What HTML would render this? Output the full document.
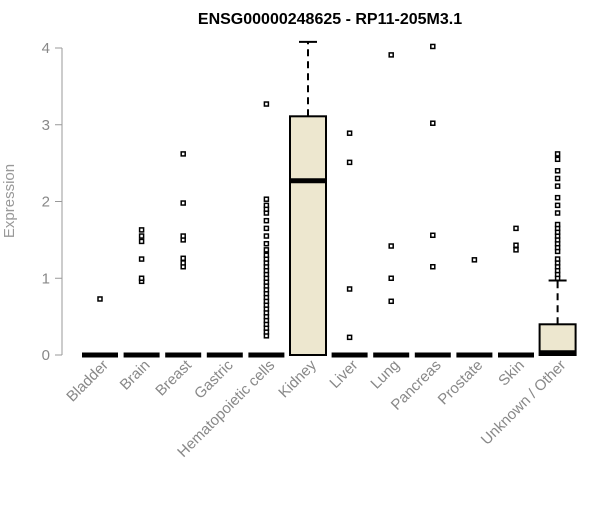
<!DOCTYPE html>
<html><head><meta charset="utf-8"><style>body{margin:0;background:#fff}svg{font-family:"Liberation Sans",Arial,sans-serif}</style></head>
<body>
<svg id="chart" width="600" height="500">
<text x="330" y="24" text-anchor="middle" font-weight="bold" font-size="16">ENSG00000248625 - RP11-205M3.1</text>
<text transform="translate(14,201) rotate(-90)" text-anchor="middle" font-size="15" fill="#999">Expression</text>
<g id="g"></g>
</svg>
<script>
const categories=["Bladder","Brain","Breast","Gastric","Hematopoietic cells","Kidney","Liver","Lung","Pancreas","Prostate","Skin","Unknown / Other"];
const q1=[0,0,0,0,0,0,0,0,0,0,0,0];
const medians=[0,0,0,0,0,2.27,0,0,0,0,0,0.03];
const q3=[0,0,0,0,0,3.11,0,0,0,0,0,0.4];
const whiskHi=[0,0,0,0,0,4.08,0,0,0,0,0,0.97];
const outliers=[[0.73],[0.96,1.0,1.25,1.48,1.55,1.63],[1.15,1.2,1.26,1.5,1.55,1.98,2.62],[],
[0.25,0.3,0.35,0.4,0.45,0.5,0.55,0.6,0.65,0.7,0.75,0.8,0.85,0.9,0.95,1.0,1.05,1.1,1.15,1.2,1.25,1.3,1.37,1.45,1.55,1.65,1.75,1.85,1.9,1.95,2.03,3.27],
[],[0.23,0.86,2.51,2.89],[0.7,1.0,1.42,3.91],[1.15,1.56,3.02,4.02],[1.24],[1.37,1.43,1.65],
[1.0,1.05,1.1,1.15,1.2,1.25,1.35,1.4,1.45,1.5,1.55,1.6,1.65,1.7,1.85,1.95,2.05,2.2,2.3,2.4,2.55,2.62]];
const yTicks=[0,1,2,3,4];
const NS="http://www.w3.org/2000/svg",g=document.getElementById("g");
const y=v=>355-v*76.75, x=i=>100+i*41.6;
function el(t,a,n){const e=document.createElementNS(NS,t);for(const k in a)e.setAttribute(k,a[k]);


g.appendChild(e);return e;}
el("line",{x1:62,x2:62,y1:y(0),y2:y(4),stroke:"#999"},"y-axis-line");
yTicks.forEach(t=>{el("line",{x1:55,x2:62,y1:y(t),y2:y(t),stroke:"#999"},"y-tick");
const tx=el("text",{x:50,y:y(t)+5,"text-anchor":"end","font-size":"15",fill:"#888"},"y-tick-label");tx.textContent=t;});
categories.forEach((c,i)=>{const cx=x(i),w=18;
if(whiskHi[i]>q3[i]){el("line",{x1:cx,x2:cx,y1:y(q3[i]),y2:y(whiskHi[i]),stroke:"#000","stroke-width":2,"stroke-dasharray":"7,5"},"whisker");
el("line",{x1:cx-9,x2:cx+9,y1:y(whiskHi[i]),y2:y(whiskHi[i]),stroke:"#000","stroke-width":2},"whisker-cap");}
if(q3[i]>q1[i])el("rect",{x:cx-w,y:y(q3[i]),width:2*w,height:y(q1[i])-y(q3[i]),fill:"#ede7cf",stroke:"#000","stroke-width":2},"box-"+i);
el("line",{x1:cx-w,x2:cx+w,y1:y(medians[i]),y2:y(medians[i]),stroke:"#000","stroke-width":5},"median-"+i);
outliers[i].forEach(v=>el("rect",{x:cx-2,y:y(v)-2,width:4,height:4,fill:"#fff",stroke:"#000","stroke-width":1.5},"outlier"));
const t=el("text",{transform:`translate(${cx+9},366) rotate(-45)`,"text-anchor":"end","font-size":"15",fill:"#888"},"x-label");t.textContent=c;});
</script>
</body></html>
